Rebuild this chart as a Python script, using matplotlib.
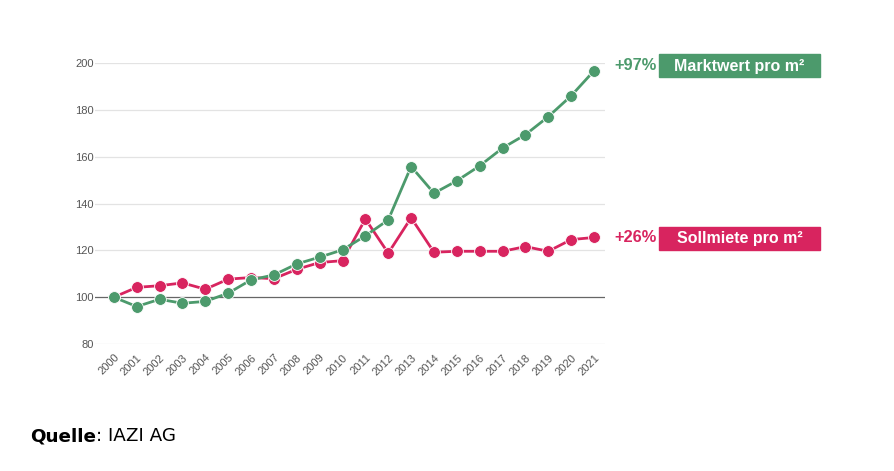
import matplotlib
matplotlib.use("Agg")
import matplotlib.pyplot as plt

years = list(range(2000, 2022))
year_labels = [str(y) for y in years]
marktwert = [100, 96.0, 99.1, 97.4, 98.2, 101.7, 107.4, 109.5, 114.2, 117.1, 120.2,
             126.2, 133.0, 155.8, 144.4, 149.7, 156.1, 163.7, 169.4, 177.1, 186.0, 196.7]
sollmiete = [100, 104.2, 104.9, 106.1, 103.4, 107.7, 108.4, 107.9, 111.9, 114.8, 115.6,
             133.4, 118.8, 133.9, 119.2, 119.6, 119.6, 119.6, 121.6, 119.6, 124.6, 125.5]
yticks = [80, 100, 120, 140, 160, 180, 200]
labels = ["Marktwert pro m²", "Sollmiete pro m²"]
pct = ["+97%", "+26%"]

GREEN = "#4c9a6c"
PINK = "#d8245f"

fig = plt.figure(figsize=(8.95, 4.71), dpi=100)
ax = fig.add_axes([0.106, 0.2696, 0.570, 0.5966])

ax.plot(years, sollmiete, color=PINK, lw=2.0, zorder=3, solid_capstyle="round")
ax.plot(years, marktwert, color=GREEN, lw=2.0, zorder=3, solid_capstyle="round")
ax.plot(years, sollmiete, ls="none", marker="o", ms=8.5, color=PINK,
        mec="white", mew=0.6, zorder=4, clip_on=False)
ax.plot(years, marktwert, ls="none", marker="o", ms=8.5, color=GREEN,
        mec="white", mew=0.6, zorder=5, clip_on=False)

ax.set_xlim(1999.17, 2021.48)
ax.set_ylim(80, 200)
ax.set_yticks(yticks)
ax.set_yticklabels([str(v) for v in yticks], fontsize=8, color="#555555",
                   family="Liberation Sans")
ax.set_xticks(years)
ax.set_xticklabels(year_labels, rotation=45, ha="right", rotation_mode="anchor",
                   fontsize=8, color="#555555", family="Liberation Sans")
ax.tick_params(axis="y", length=0, pad=1)
ax.tick_params(axis="x", length=0, pad=6)
for s in ax.spines.values():
    s.set_visible(False)
for v in yticks:
    if v == 100:
        ax.axhline(v, color="#666666", lw=0.9, zorder=2)
    else:
        ax.axhline(v, color="#e3e3e3", lw=0.9, zorder=1)


def fy(py):
    return 1 - py / 471.0


fig.text(657 / 895, fy(66), pct[0], color=GREEN, fontsize=11.8, fontweight="bold",
         family="Liberation Sans", ha="right", va="center")
fig.text(657 / 895, fy(238), pct[1], color=PINK, fontsize=11.8, fontweight="bold",
         family="Liberation Sans", ha="right", va="center")
for ytop, col, txt in [(54, GREEN, labels[0]), (227, PINK, labels[1])]:
    rect = plt.Rectangle((659 / 895, fy(ytop + 23)), (820 - 659) / 895, 23 / 471,
                         transform=fig.transFigure, color=col, zorder=1)
    fig.add_artist(rect)
    fig.text((659 + 820) / 2 / 895, fy(ytop + 12), txt, color="white", fontsize=11.5,
             fontweight="bold", family="Liberation Sans", ha="center", va="center")

t1 = fig.text(30 / 895, fy(436), "Quelle", fontsize=13.2, fontweight="bold",
              family="DejaVu Sans", va="center", ha="left")
fig.canvas.draw()
bb = t1.get_window_extent(renderer=fig.canvas.get_renderer())
fig.text(bb.x1 / 895, fy(436), ": IAZI AG", fontsize=13.2,
         family="DejaVu Sans", va="center", ha="left")

fig.savefig("out.png", dpi=100, facecolor="white")
